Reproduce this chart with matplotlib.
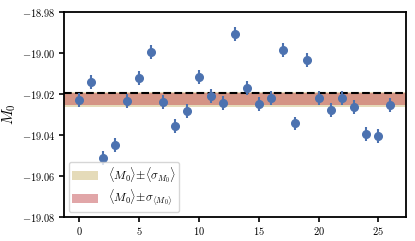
import numpy as np
import matplotlib
matplotlib.use('Agg')
import matplotlib.pyplot as plt

plt.rcParams['mathtext.fontset'] = 'cm'
plt.rcParams['font.family'] = 'serif'
plt.rcParams['font.serif'] = ['DejaVu Serif']
plt.rcParams['axes.formatter.use_mathtext'] = True

# data
idx = np.arange(27)
M0 = np.array([-19.0229, -19.0142, -19.0514, -19.0451, -19.0235, -19.0120, -18.9996,
               -19.0237, -19.0355, -19.0281, -19.0117, -19.0210, -19.0244, -18.9906,
               -19.0170, -19.0247, -19.0221, -18.9984, -19.0344, -19.0033, -19.0218,
               -19.0277, -19.0218, -19.0265, -19.0394, -19.0404, -19.0255])
M0_err = np.full(27, 0.0034)
ref_line = -19.0195
mean_sig = 0.0037   # <sigma_M0>
sig_mean = 0.0029   # sigma_<M0>

mean_M0 = M0.mean()

fig = plt.figure(figsize=(4.15, 2.41), dpi=100)
ax = fig.add_axes([0.154, 0.101, 0.824, 0.848])

ax.axhspan(mean_M0 - mean_sig, mean_M0 + mean_sig, color='#ccb974', alpha=0.5, lw=0,
           label=r'$\langle M_0\rangle\!\pm\!\langle\sigma_{M_0}\rangle$')
ax.axhspan(mean_M0 - sig_mean, mean_M0 + sig_mean, color='#c44e52', alpha=0.5, lw=0,
           label=r'$\langle M_0\rangle\!\pm\!\sigma_{\langle M_0\rangle}$')
ax.axhline(ref_line, color='k', ls='--', lw=1.5)
ax.errorbar(idx, M0, yerr=M0_err, fmt='o', color='#4c72b0', ms=5.5, elinewidth=1.5, capsize=0)

ax.set_ylim(-19.08, -18.98)
ax.set_yticks([-19.08, -19.06, -19.04, -19.02, -19.00, -18.98])
ax.yaxis.set_major_formatter(matplotlib.ticker.FormatStrFormatter('$%.2f$'))
ax.set_xticks([0, 5, 10, 15, 20, 25])
ax.xaxis.set_major_formatter(matplotlib.ticker.FormatStrFormatter('$%d$'))
ax.tick_params(labelsize=7.5, width=1.2, length=3.5, direction='out', pad=2.5)
for s in ax.spines.values():
    s.set_linewidth(1.3)
ax.set_ylabel(r'$M_0$', fontsize=11, labelpad=3)

ax.legend(loc='lower left', fontsize=8.5, frameon=True, fancybox=True, edgecolor='#cccccc',
          handlelength=2.2, handleheight=0.8, labelspacing=0.25, borderpad=0.3,
          borderaxespad=0.4, handletextpad=0.8)

fig.savefig('out.png', dpi=100)
